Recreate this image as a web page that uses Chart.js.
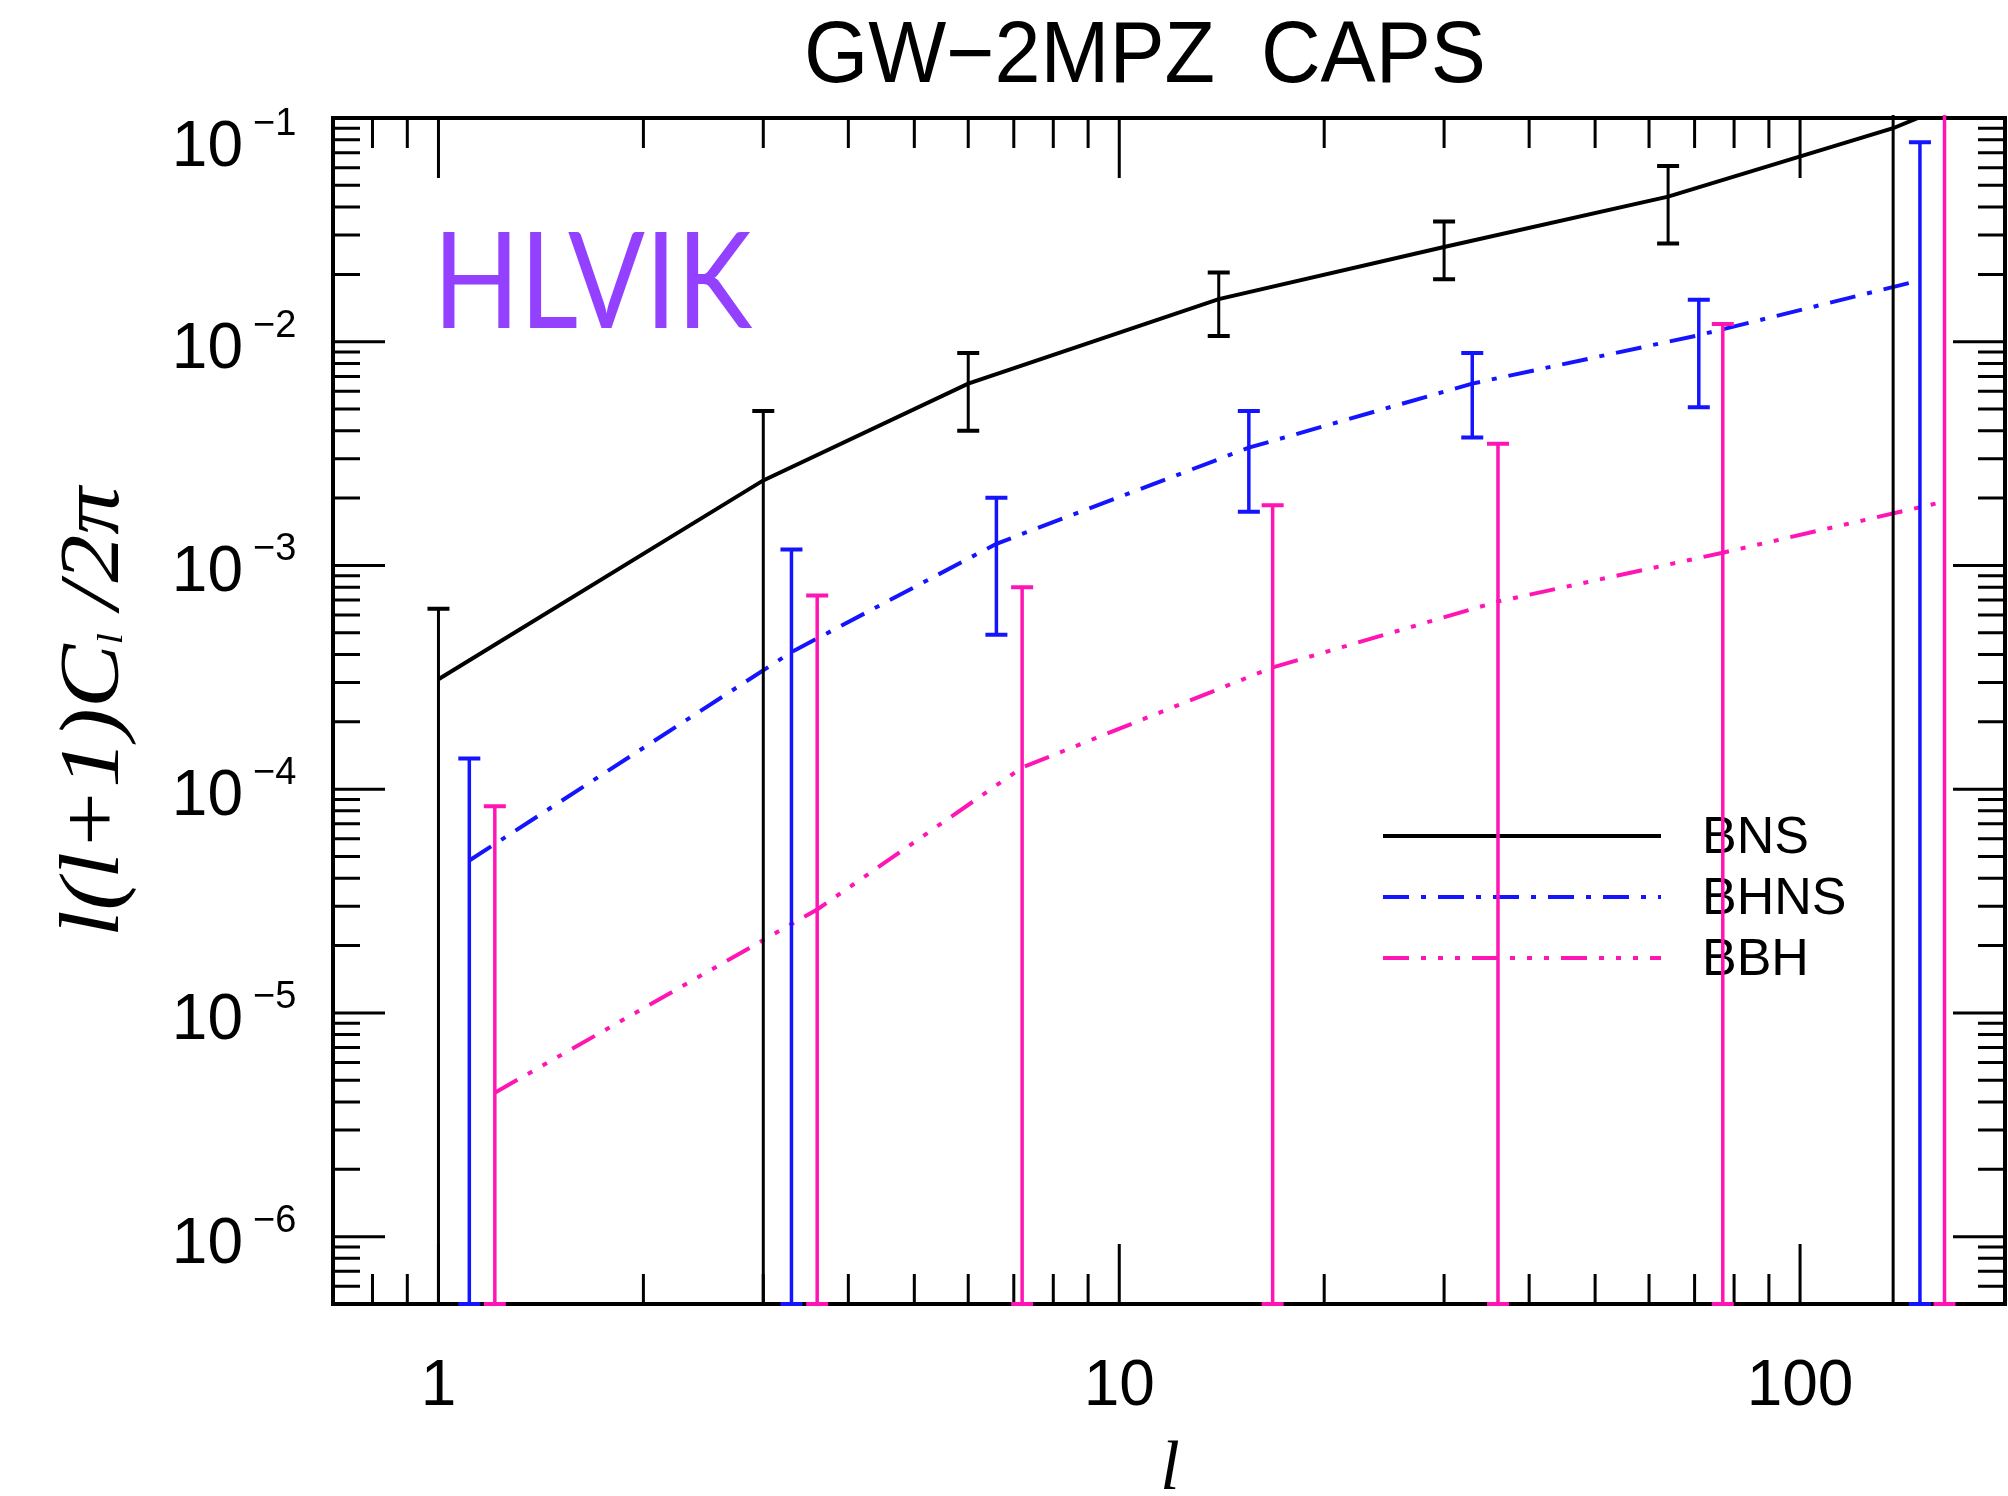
<!DOCTYPE html>
<html>
<head>
<meta charset="utf-8">
<script src="https://cdn.jsdelivr.net/npm/chart.js@4.4.1/dist/chart.umd.min.js"></script>
<style>
  html, body { margin: 0; padding: 0; background: #fff; }
  canvas { display: block; }
</style>
</head>
<body>
<canvas id="capsChart" width="2008" height="1496"></canvas>
<script>
// BNS: multipole bins, l(l+1)C_l/2pi and error bar ends
const bnsEll = [1, 3, 6, 14, 30, 64, 137, 163];
const bnsCl  = [3.1e-4, 2.4e-3, 6.5e-3, 1.55e-2, 2.65e-2, 4.45e-2, 0.09, 0.112];
const bnsHi  = [6.4e-4, 4.9e-3, 8.9e-3, 2.04e-2, 3.45e-2, 6.1e-2, 0.3];
const bnsLo  = [5e-7, 5e-7, 4.0e-3, 1.06e-2, 1.9e-2, 2.75e-2, 5e-7];

// BHNS
const bhnsEll = [1.11, 3.3, 6.6, 15.5, 33, 71, 150];
const bhnsCl  = [4.8e-5, 4.1e-4, 1.25e-3, 3.36e-3, 6.5e-3, 1.07e-2, 1.88e-2];
const bhnsHi  = [1.37e-4, 1.18e-3, 2.01e-3, 4.9e-3, 8.9e-3, 1.54e-2, 7.8e-2];
const bhnsLo  = [5e-7, 5e-7, 4.9e-4, 1.74e-3, 3.73e-3, 5.1e-3, 5e-7];

// BBH
const bbhEll = [1.21, 3.6, 7.2, 16.8, 36, 77, 163];
const bbhCl  = [4.4e-6, 2.9e-5, 1.25e-4, 3.5e-4, 6.9e-4, 1.14e-3, 1.93e-3];
const bbhHi  = [8.4e-5, 7.35e-4, 8.0e-4, 1.86e-3, 3.5e-3, 1.2e-2, 0.3];
const bbhLo  = [5e-7, 5e-7, 5e-7, 5e-7, 5e-7, 5e-7, 5e-7];

// axis labels
const xTickVals = [1, 10, 100];
const yTickExps = [-6, -5, -4, -3, -2, -1];
const seriesNames = ['BNS', 'BHNS', 'BBH'];

const BLACK = '#000000';
const BLUE = '#1414ff';
const PINK = '#ff14b4';
const dashBHNS = [26, 12, 5, 12];
const dashBBH = [26, 12, 5, 12, 5, 12, 5, 12];

const toXY = (xs, ys) => xs.map((x, i) => ({ x: x, y: ys[i] }));

function fitText(ctx, text, x, y, width) {
  const w = ctx.measureText(text).width;
  ctx.save();
  ctx.translate(x, y);
  ctx.scale(width / w, 1);
  ctx.fillText(text, 0, 0);
  ctx.restore();
}

function drawErrors(chart, xs, lo, hi, color, lw) {
  const ctx = chart.ctx;
  const xS = chart.scales.x, yS = chart.scales.y;
  ctx.save();
  ctx.strokeStyle = color;
  ctx.setLineDash([]);
  for (let i = 0; i < hi.length; i++) {
    const px = xS.getPixelForValue(xs[i]);
    const pLo = yS.getPixelForValue(lo[i]);
    const pHi = yS.getPixelForValue(hi[i]);
    ctx.lineWidth = lw;
    ctx.beginPath();
    ctx.moveTo(px, pLo);
    ctx.lineTo(px, pHi);
    ctx.stroke();
    ctx.lineWidth = 4;
    ctx.beginPath();
    ctx.moveTo(px - 11, pLo); ctx.lineTo(px + 11, pLo);
    ctx.moveTo(px - 11, pHi); ctx.lineTo(px + 11, pHi);
    ctx.stroke();
  }
  ctx.restore();
}

const decor = {
  id: 'capsDecor',
  beforeDraw(chart) {
    const ctx = chart.ctx;
    ctx.save();
    ctx.fillStyle = '#fff';
    ctx.fillRect(0, 0, chart.width, chart.height);
    ctx.restore();
  },
  beforeDatasetsDraw(chart) {
    // legend inside the plot
    const ctx = chart.ctx;
    const a = chart.chartArea;
    const x0 = a.right - 622, x1 = a.right - 344;
    const styles = [[BLACK, []], [BLUE, dashBHNS], [PINK, dashBBH]];
    ctx.save();
    ctx.font = '52px "Liberation Sans", Arial, sans-serif';
    ctx.textBaseline = 'alphabetic';
    seriesNames.forEach((name, i) => {
      const y = a.top + 718 + i * 61;
      ctx.strokeStyle = styles[i][0];
      ctx.setLineDash(styles[i][1]);
      ctx.lineWidth = 4;
      ctx.beginPath();
      ctx.moveTo(x0, y);
      ctx.lineTo(x1, y);
      ctx.stroke();
      ctx.fillStyle = '#000';
      ctx.fillText(name, a.right - 303, y + 17);
    });
    ctx.restore();
  },
  afterDatasetsDraw(chart) {
    const ctx = chart.ctx;
    const a = chart.chartArea;
    const xS = chart.scales.x, yS = chart.scales.y;
    ctx.save();
    ctx.strokeStyle = '#000';
    ctx.setLineDash([]);
    // ticks, inward on all four sides
    ctx.lineWidth = 3;
    ctx.beginPath();
    for (let e = -1; e <= 2; e++) {
      for (let m = 1; m <= 9; m++) {
        const v = m * Math.pow(10, e);
        if (v <= xS.min * 1.001 || v >= xS.max * 0.999) continue;
        const px = xS.getPixelForValue(v);
        const len = m === 1 ? 60 : 30;
        ctx.moveTo(px, a.bottom); ctx.lineTo(px, a.bottom - len);
        ctx.moveTo(px, a.top); ctx.lineTo(px, a.top + len);
      }
    }
    for (let e = -7; e <= -1; e++) {
      for (let m = 1; m <= 9; m++) {
        const v = m * Math.pow(10, e);
        if (v <= yS.min * 1.001 || v > yS.max * 1.001) continue;
        const py = yS.getPixelForValue(v);
        const len = m === 1 ? 52 : 27;
        ctx.moveTo(a.left, py); ctx.lineTo(a.left + len, py);
        ctx.moveTo(a.right, py); ctx.lineTo(a.right - len, py);
      }
    }
    ctx.stroke();
    // frame
    ctx.lineWidth = 4;
    ctx.strokeRect(a.left, a.top, a.right - a.left, a.bottom - a.top);
    ctx.restore();

    // error bars, on top of everything in the plot
    ctx.save();
    ctx.beginPath();
    ctx.rect(a.left, a.top - 3, a.right - a.left, a.bottom - a.top + 6);
    ctx.clip();
    drawErrors(chart, bnsEll, bnsLo, bnsHi, BLACK, 3);
    drawErrors(chart, bhnsEll, bhnsLo, bhnsHi, BLUE, 3.5);
    drawErrors(chart, bbhEll, bbhLo, bbhHi, PINK, 3.5);
    ctx.restore();
  },
  afterDraw(chart) {
    const ctx = chart.ctx;
    const a = chart.chartArea;
    const xS = chart.scales.x, yS = chart.scales.y;
    ctx.save();
    ctx.fillStyle = '#000';
    ctx.textBaseline = 'alphabetic';

    // y tick labels 10^n
    yTickExps.forEach(n => {
      const py = yS.getPixelForValue(Math.pow(10, n));
      const base = Math.max(py + 26, a.top + 48);
      const mainRight = a.left - 90;
      ctx.font = '64px "Liberation Sans", Arial, sans-serif';
      ctx.textAlign = 'right';
      ctx.fillText('10', mainRight, base);
      ctx.font = '38px "Liberation Sans", Arial, sans-serif';
      ctx.textAlign = 'left';
      ctx.fillText('\u2212' + Math.abs(n), mainRight + 10, base - 31);
    });

    // x tick labels
    ctx.font = '64px "Liberation Sans", Arial, sans-serif';
    ctx.textAlign = 'center';
    xTickVals.forEach(v => {
      ctx.fillText(String(v), xS.getPixelForValue(v), a.bottom + 101);
    });

    // title
    ctx.textAlign = 'left';
    ctx.font = '87px "Liberation Sans", Arial, sans-serif';
    fitText(ctx, 'GW\u22122MPZ  CAPS', 804, 82, 682);

    // x axis title
    ctx.textAlign = 'center';
    ctx.font = 'italic 70px "Liberation Serif", serif';
    ctx.fillText('l', 1170, 1489);

    // y axis title, rotated
    ctx.save();
    ctx.translate(118, 712);
    ctx.rotate(-Math.PI / 2);
    ctx.textAlign = 'left';
    const mainFont = 'italic 84px "Liberation Serif", serif';
    const subFont = 'italic 36px "Liberation Serif", serif';
    const parts = [['l(l+1)C', mainFont, 0], ['l', subFont, 4], [' /2\u03c0', mainFont, 0]];
    let total = 0;
    parts.forEach(p => { ctx.font = p[1]; total += ctx.measureText(p[0]).width; });
    const sx = 450 / total;
    ctx.scale(sx, 1);
    let cx = -total / 2;
    parts.forEach(p => {
      ctx.font = p[1];
      ctx.fillText(p[0], cx, p[2]);
      cx += ctx.measureText(p[0]).width;
    });
    ctx.restore();

    // detector network label
    ctx.fillStyle = '#9440ff';
    ctx.textAlign = 'left';
    ctx.font = '133px Lato, "Open Sans", sans-serif';
    fitText(ctx, 'HLVIK', 433, 328, 319);
    ctx.restore();
  }
};

const ctx = document.getElementById('capsChart').getContext('2d');
const capsChart = new Chart(ctx, {
  type: 'line',
  data: {
    datasets: [
      {
        label: 'BNS',
        data: toXY(bnsEll, bnsCl),
        borderColor: BLACK,
        borderWidth: 4,
        pointRadius: 0,
        tension: 0,
        clip: 0
      },
      {
        label: 'BHNS',
        data: toXY(bhnsEll, bhnsCl),
        borderColor: BLUE,
        borderWidth: 4,
        borderDash: dashBHNS,
        pointRadius: 0,
        tension: 0,
        clip: 0
      },
      {
        label: 'BBH',
        data: toXY(bbhEll, bbhCl),
        borderColor: PINK,
        borderWidth: 4,
        borderDash: dashBBH,
        pointRadius: 0,
        tension: 0,
        clip: 0
      }
    ]
  },
  options: {
    responsive: false,
    animation: false,
    devicePixelRatio: 1,
    layout: {
      padding: { left: 333, right: 3, top: 118, bottom: 192 }
    },
    scales: {
      x: { type: 'logarithmic', min: 0.7, max: 200, display: false },
      y: { type: 'logarithmic', min: 5e-7, max: 0.1, display: false }
    },
    plugins: {
      legend: { display: false },
      title: { display: false },
      tooltip: { enabled: false }
    }
  },
  plugins: [decor]
});
</script>
</body>
</html>
